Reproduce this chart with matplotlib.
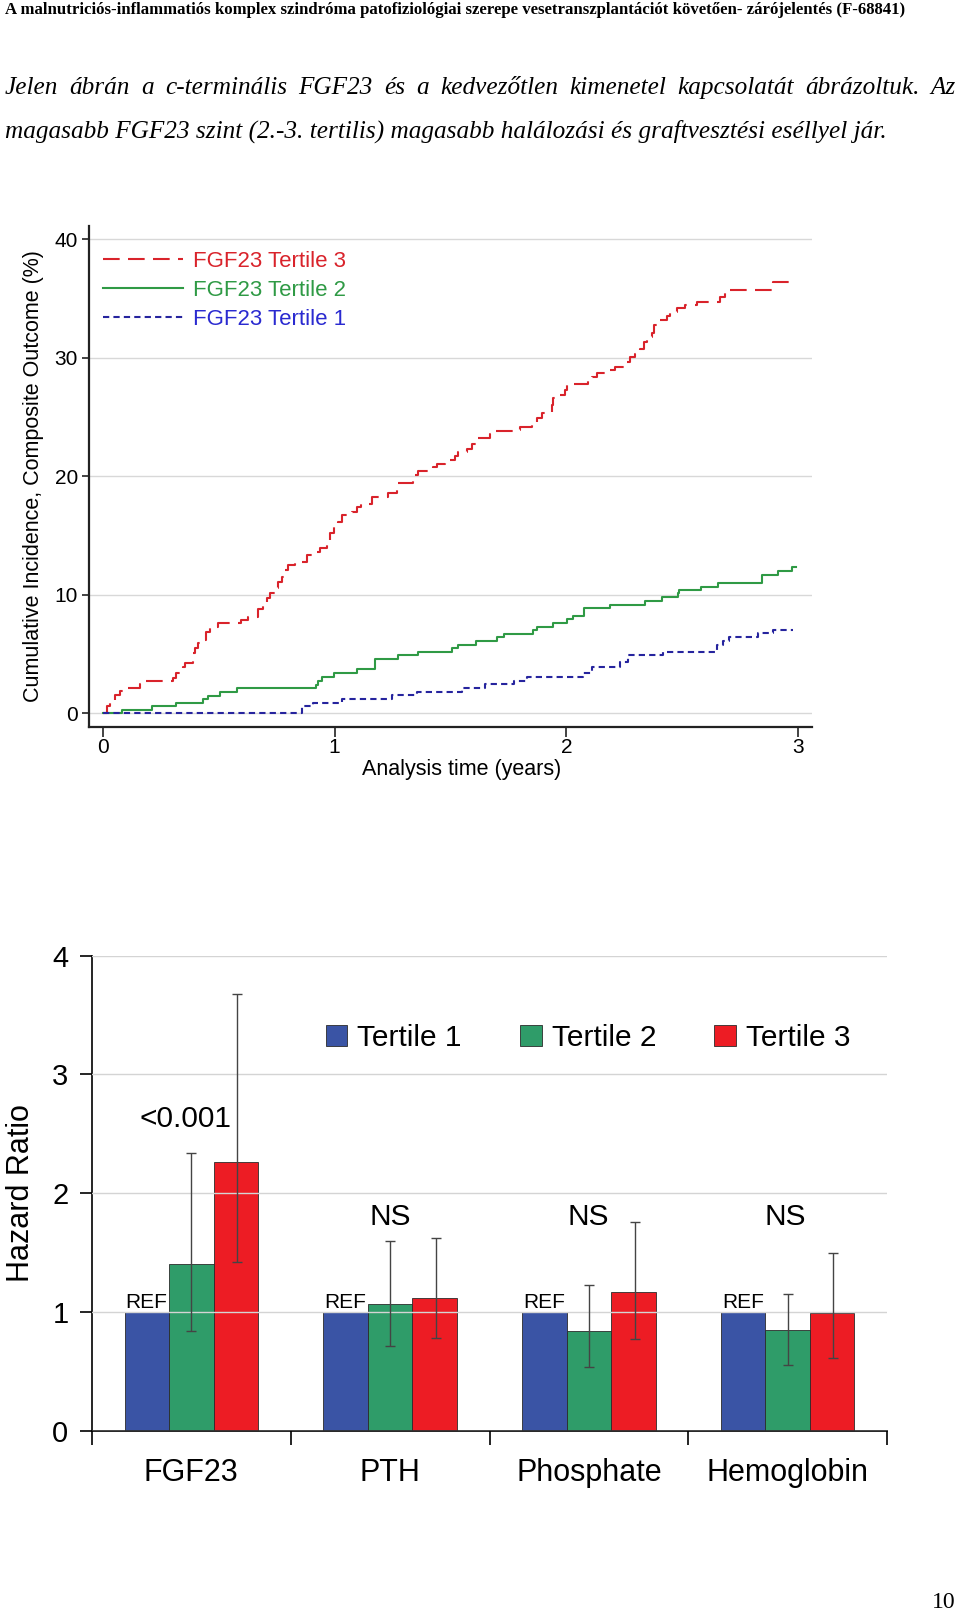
import matplotlib
matplotlib.use("Agg")
from matplotlib import pyplot as plt

plt.rcParams['font.family'] = ['Liberation Sans', 'DejaVu Sans']

# page text
header = ("A malnutriciós-inflammatiós komplex szindróma patofiziológiai szerepe "
          "vesetranszplantációt követően- zárójelentés (F-68841)")
para_line1 = ("Jelen ábrán a c-terminális FGF23 és a kedvezőtlen kimenetel "
              "kapcsolatát ábrázoltuk. Az")
para_line2 = ("magasabb FGF23 szint (2.-3. tertilis) magasabb halálozási és "
              "graftvesztési eséllyel jár.")
page_no = "10"

# cumulative incidence curves (years, %)
t3_time = [0, 0.016, 0.030, 0.052, 0.073, 0.088, 0.160, 0.181, 0.303, 0.315,
           0.347, 0.354, 0.390, 0.397, 0.411, 0.423, 0.443, 0.462, 0.498, 0.598,
           0.627, 0.671, 0.692, 0.706, 0.721, 0.742, 0.754, 0.771, 0.785, 0.797,
           0.829, 0.879, 0.915, 0.937, 0.965, 0.980, 0.998, 1.016, 1.030, 1.073,
           1.095, 1.114, 1.160, 1.231, 1.268, 1.339, 1.361, 1.426, 1.440, 1.476,
           1.519, 1.534, 1.570, 1.591, 1.613, 1.670, 1.692, 1.785, 1.800, 1.850,
           1.872, 1.893, 1.936, 1.944, 1.965, 1.994, 2.001, 2.095, 2.109, 2.131,
           2.181, 2.210, 2.253, 2.275, 2.296, 2.318, 2.335, 2.347, 2.368, 2.379,
           2.397, 2.433, 2.447, 2.476, 2.512, 2.562, 2.663, 2.685, 2.893, 2.990]
t3_inc = [0, 0.56, 1.12, 1.55, 1.82, 2.10, 2.46, 2.66, 2.93, 3.35,
          3.91, 4.25, 5.04, 5.46, 5.88, 6.16, 6.86, 7.28, 7.62, 7.85,
          8.13, 8.75, 9.26, 9.68, 10.10, 10.52, 11.08, 11.50, 12.06, 12.49,
          12.77, 13.33, 13.61, 13.95, 14.32, 15.16, 15.72, 16.14, 16.71, 16.99,
          17.35, 17.65, 18.27, 18.55, 19.44, 20.08, 20.45, 20.73, 21.01, 21.35,
          21.69, 22.00, 22.31, 22.67, 23.18, 23.51, 23.77, 23.88, 24.16, 24.45,
          24.87, 25.29, 25.99, 26.56, 26.84, 27.26, 27.74, 28.04, 28.38, 28.66,
          28.94, 29.23, 29.65, 30.02, 30.30, 30.69, 31.34, 31.71, 32.10, 32.74,
          33.16, 33.50, 33.87, 34.15, 34.43, 34.71, 35.13, 35.70, 36.34, 36.34]

t2_time = [0, 0.083, 0.214, 0.315, 0.433, 0.455, 0.505, 0.577, 0.918, 0.930,
           0.944, 0.996, 1.098, 1.174, 1.275, 1.361, 1.505, 1.534, 1.609, 1.699,
           1.731, 1.857, 1.872, 1.944, 2.001, 2.030, 2.077, 2.188, 2.339, 2.411,
           2.480, 2.487, 2.580, 2.656, 2.846, 2.912, 2.975, 2.991]
t2_inc = [0, 0.25, 0.59, 0.87, 1.15, 1.46, 1.80, 2.08, 2.36, 2.70,
          3.01, 3.35, 3.69, 4.53, 4.87, 5.15, 5.46, 5.74, 6.08, 6.39,
          6.67, 7.00, 7.28, 7.59, 7.91, 8.21, 8.83, 9.11, 9.45, 9.79,
          10.10, 10.38, 10.66, 11.00, 11.65, 11.96, 12.30, 12.30]

t1_time = [0, 0.860, 0.908, 1.033, 1.246, 1.357, 1.551, 1.649, 1.774, 1.831,
           2.073, 2.109, 2.231, 2.267, 2.416, 2.648, 2.674, 2.703, 2.828, 2.893,
           2.980]
t1_inc = [0, 0.59, 0.87, 1.21, 1.49, 1.77, 2.11, 2.42, 2.70, 3.01,
          3.35, 3.91, 4.28, 4.87, 5.12, 5.74, 6.10, 6.39, 6.73, 7.03,
          7.03]

# hazard ratios by tertile
categories = ['FGF23', 'PTH', 'Phosphate', 'Hemoglobin']
hr_t1 = [1.0, 1.0, 1.0, 1.0]
hr_t2 = [1.40, 1.07, 0.84, 0.85]
hr_t3 = [2.26, 1.12, 1.17, 0.99]
t2_lo = [0.84, 0.71, 0.54, 0.55]
t2_hi = [2.34, 1.60, 1.23, 1.15]
t3_lo = [1.42, 0.78, 0.77, 0.61]
t3_hi = [3.68, 1.62, 1.76, 1.50]
p_labels = ['<0.001', 'NS', 'NS', 'NS']

W, H = 960, 1613
fig = plt.figure(figsize=(W / 100, H / 100), dpi=100)
rend = fig.canvas.get_renderer()


def fit(txt, width):
    w = txt.get_window_extent(rend).width
    txt.set_fontsize(txt.get_fontsize() * width / w)


serif = ['Liberation Serif', 'DejaVu Serif']
h = fig.text(5 / W, 1 - 10 / H, header, family=serif, weight='bold',
             fontsize=10, va='center')
fit(h, 902)

l2 = fig.text(5 / W, 1 - 131 / H, para_line2, family=serif, style='italic',
              fontsize=16, va='center')
fit(l2, 880)
fs_par = l2.get_fontsize()

# first line is justified
words = para_line1.split()
wtxt = [fig.text(0, 1 - 88 / H, w, family=serif, style='italic',
                 fontsize=fs_par, va='center') for w in words]
widths = [t.get_window_extent(rend).width for t in wtxt]
gap = (956 - 5 - sum(widths)) / (len(words) - 1)
x = 5
for t, w in zip(wtxt, widths):
    t.set_x(x / W)
    x += w + gap

fig.text(944 / W, 1 - 1603 / H, page_no, family=serif, fontsize=17,
         ha='center', va='center')

# ---- cumulative incidence plot ----
ax1 = fig.add_axes([89 / W, 1 - 727 / H, (812 - 89) / W, (727 - 226) / H])
red, green, blue = '#d9232b', '#2f9a45', '#26249e'
ax1.step(t3_time, t3_inc, where='post', color=red, lw=1.5, dashes=(8, 4),
         label='FGF23 Tertile 3')
ax1.step(t2_time, t2_inc, where='post', color=green, lw=1.5,
         label='FGF23 Tertile 2')
ax1.step(t1_time, t1_inc, where='post', color=blue, lw=1.5, dashes=(3, 2),
         label='FGF23 Tertile 1')
ax1.set_xlim(-0.06, 3.06)
ax1.set_ylim(-1.18, 41.1)
ax1.set_xticks([0, 1, 2, 3])
ax1.set_yticks([0, 10, 20, 30, 40])
ax1.yaxis.grid(True, color='#d8d8d8', lw=1)
ax1.set_axisbelow(True)
for s in ['top', 'right']:
    ax1.spines[s].set_visible(False)
for s in ['left', 'bottom']:
    ax1.spines[s].set_color('#222222')
    ax1.spines[s].set_linewidth(1.6)
ax1.tick_params(axis='y', length=5, width=1.2, pad=3, labelsize=15,
                color='#222222')
ax1.tick_params(axis='x', length=7, width=1.2, pad=1, labelsize=15,
                color='#222222')
ax1.set_xlabel('Analysis time (years)', fontsize=15.5)
ax1.xaxis.set_label_coords((462 - 89) / 723, -0.064)
ax1.set_ylabel('Cumulative Incidence, Composite Outcome (%)', fontsize=15.5)
ax1.yaxis.set_label_coords(-0.062, 0.5)
ax1.legend(loc='upper left', bbox_to_anchor=(0.019, 0.951),
           frameon=False, fontsize=16, handlelength=3.6,
           handletextpad=0.46, labelspacing=0.36, borderpad=0,
           borderaxespad=0, labelcolor=[red, green, '#2a2ad0'])

# ---- hazard ratio bars ----
ax2 = fig.add_axes([92 / W, 1 - 1430.7 / H, 795 / W, 475 / H])
bw = 0.224
xs = range(len(categories))
cols = ['#3a54a5', '#2f9c69', '#ed1c24']
ax2.bar([i - bw for i in xs], hr_t1, bw, color=cols[0], edgecolor='#2b2b2b',
        lw=0.6, label='Tertile 1')
ax2.bar(list(xs), hr_t2, bw, color=cols[1], edgecolor='#2b2b2b', lw=0.6,
        label='Tertile 2')
ax2.bar([i + bw for i in xs], hr_t3, bw, color=cols[2], edgecolor='#2b2b2b',
        lw=0.6, label='Tertile 3')
ax2.errorbar(list(xs), hr_t2,
             yerr=[[a - b for a, b in zip(hr_t2, t2_lo)],
                   [b - a for a, b in zip(hr_t2, t2_hi)]],
             fmt='none', ecolor='#444444', elinewidth=1, capsize=3.5,
             capthick=1, zorder=4)
ax2.errorbar([i + bw + 0.006 for i in xs], hr_t3,
             yerr=[[a - b for a, b in zip(hr_t3, t3_lo)],
                   [b - a for a, b in zip(hr_t3, t3_hi)]],
             fmt='none', ecolor='#444444', elinewidth=1, capsize=3.5,
             capthick=1, zorder=4)
for i in xs:
    ax2.text(i - 1.5 * bw + 0.005, 1.035, 'REF', fontsize=15, va='baseline')
p_x = [-0.032, 0.0, -0.003, -0.01]
for i, lab in enumerate(p_labels):
    ax2.text(i + p_x[i], 2.56 if i == 0 else 1.73, lab, fontsize=21.5,
             ha='center', va='baseline')

ax2.set_xlim(-0.5, 3.5)
ax2.set_ylim(0, 4)
ax2.set_yticks([0, 1, 2, 3, 4])
ax2.set_xticks([-0.5, 0.5, 1.5, 2.5, 3.5])
ax2.set_xticklabels([])
ax2.set_xticks(list(xs), minor=True)
ax2.set_xticklabels(categories, minor=True)
ax2.tick_params(axis='x', which='major', length=10, width=1.2, direction='out')
ax2.tick_params(axis='x', which='minor', length=0, pad=20, labelsize=22)
ax2.tick_params(axis='y', length=9, width=1.2, pad=8, labelsize=21)
ax2.yaxis.grid(True, color='#d4d4d4', lw=1)
ax2.set_axisbelow(False)
for s in ['top', 'right']:
    ax2.spines[s].set_visible(False)
for s in ['left', 'bottom']:
    ax2.spines[s].set_linewidth(1.2)
ax2.set_ylabel('Hazard Ratio', fontsize=22)
ax2.yaxis.set_label_coords(-0.071, 0.5)
ax2.legend(loc='center left', bbox_to_anchor=(0.294, 0.827), ncol=3,
           frameon=False, fontsize=21.5, handlelength=0.72, handleheight=0.72,
           handletextpad=0.34, columnspacing=1.95, borderpad=0,
           borderaxespad=0)

fig.savefig('out.png', dpi=100)
